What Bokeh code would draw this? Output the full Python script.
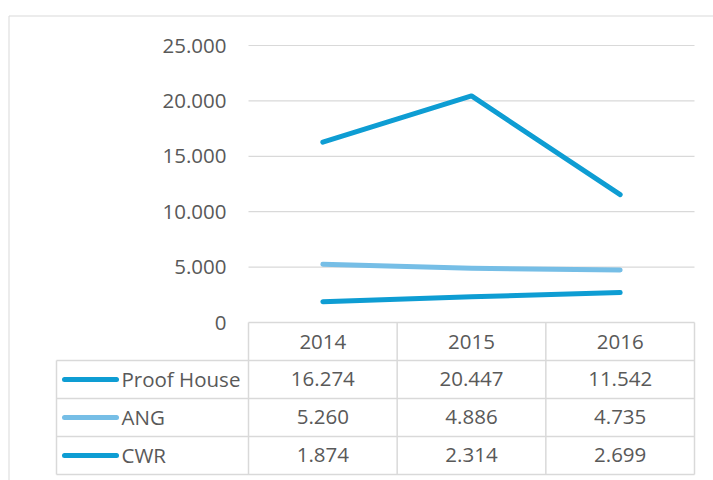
from bokeh.plotting import figure
from bokeh.models import Range1d
from bokeh.core.properties import value
from bokeh.embed import file_html
from bokeh.resources import INLINE

# ---- data ----
years = ["2014", "2015", "2016"]
series_names = ["Proof House", "ANG", "CWR"]
proof_house = [16274, 20447, 11542]
ang = [5260, 4886, 4735]
cwr = [1874, 2314, 2699]
y_ticks = [0, 5000, 10000, 15000, 20000, 25000]

series_values = [proof_house, ang, cwr]
series_colors = ["#0E9DD3", "#76BEE6", "#0E9DD3"]


def fmt(v):
    return f"{v:,}".replace(",", ".")


# ---- layout (figure pixels) ----
W, H = 713, 480
X_LEFT_PX, X_RIGHT_PX = 248, 694      # category area
Y_ZERO_PX, Y_TOP_PX = 322, 45         # value 0 and value 25000
ROW_PX = 38                           # table row height
TABLE_LEFT_PX = 56
SAMPLE_X0_PX, SAMPLE_X1_PX = 64, 116
NAME_X_PX = 121
BORDER_X_PX, BORDER_Y_PX = 8.5, 15.5

n = len(years)
sx = (X_RIGHT_PX - X_LEFT_PX) / n
sy = (Y_ZERO_PX - Y_TOP_PX) / y_ticks[-1]


def ux(px):
    return (px - X_LEFT_PX) / sx


def ty(px_from_top):
    return (Y_ZERO_PX - px_from_top) / ROW_PX


TEXT = "#595959"
GRID = "#D9D9D9"
FONT = value("Open Sans")
FS = "20.5px"
LW = 5

p = figure(width=W, height=H, output_backend="svg", toolbar_location=None,
           x_range=Range1d(ux(0), ux(W)),
           y_range=Range1d(-(H - Y_ZERO_PX) / sy, Y_ZERO_PX / sy),
           x_axis_location=None, y_axis_location=None,
           min_border=0, min_border_left=0, min_border_right=0,
           min_border_top=0, min_border_bottom=0)
p.extra_y_ranges = {"tbl": Range1d(ty(H), ty(0))}
p.grid.visible = False
p.outline_line_color = None
p.background_fill_color = "white"
p.border_fill_color = "white"

# outer chart border (left and top visible)
p.segment(x0=[ux(BORDER_X_PX), ux(BORDER_X_PX)], y0=[ty(H + 20), ty(BORDER_Y_PX)],
          x1=[ux(BORDER_X_PX), ux(W + 20)], y1=[ty(BORDER_Y_PX), ty(BORDER_Y_PX)],
          line_color=GRID, line_width=1, y_range_name="tbl")

# horizontal gridlines
gt = y_ticks[1:]
p.segment(x0=[0] * len(gt), x1=[n] * len(gt), y0=gt, y1=gt,
          line_color=GRID, line_width=1.2)

# y tick labels
p.text(x=[0] * len(y_ticks), y=y_ticks, text=[fmt(v) for v in y_ticks],
       x_offset=-22, text_align="right", text_baseline="middle",
       text_font=FONT, text_font_size=FS, text_color=TEXT)

# series lines
xs = [i + 0.5 for i in range(n)]
for vals, col in zip(series_values, series_colors):
    p.line(xs, vals, line_color=col, line_width=LW,
           line_cap="round", line_join="round")

# ---- data table ----
nrows = len(series_names)
tl = ux(TABLE_LEFT_PX)
# header top line (only over year columns)
p.segment(x0=[0], x1=[n], y0=[0], y1=[0], line_color=GRID, line_width=1.5,
          y_range_name="tbl")
# row lines
rows_y = [-(r + 1) for r in range(nrows + 1)]
p.segment(x0=[tl] * len(rows_y), x1=[n] * len(rows_y), y0=rows_y, y1=rows_y,
          line_color=GRID, line_width=1.5, y_range_name="tbl")
# vertical lines
p.segment(x0=[tl], x1=[tl], y0=[-1], y1=[-(nrows + 1)],
          line_color=GRID, line_width=1.5, y_range_name="tbl")
vx = list(range(n + 1))
p.segment(x0=vx, x1=vx, y0=[0] * len(vx), y1=[-(nrows + 1)] * len(vx),
          line_color=GRID, line_width=1.5, y_range_name="tbl")

# header years
p.text(x=xs, y=[-0.5] * n, text=years, text_align="center", text_baseline="middle",
       text_font=FONT, text_font_size=FS, text_color=TEXT, y_range_name="tbl")

# values
for r, vals in enumerate(series_values):
    p.text(x=xs, y=[-(r + 1.5)] * n, text=[fmt(v) for v in vals],
           text_align="center", text_baseline="middle", y_offset=-1,
           text_font=FONT, text_font_size=FS, text_color=TEXT, y_range_name="tbl")

# legend samples and names
row_c = [-(r + 1.5) for r in range(nrows)]
p.segment(x0=[ux(SAMPLE_X0_PX)] * nrows, x1=[ux(SAMPLE_X1_PX)] * nrows,
          y0=row_c, y1=row_c, line_color=series_colors, line_width=LW,
          line_cap="round", y_range_name="tbl")
p.text(x=[ux(NAME_X_PX)] * nrows, y=row_c, text=series_names,
       text_align="left", text_baseline="middle", y_offset=-1,
       text_font=FONT, text_font_size=FS, text_color=TEXT, y_range_name="tbl")

open("out.html", "w").write(file_html(p, INLINE))
